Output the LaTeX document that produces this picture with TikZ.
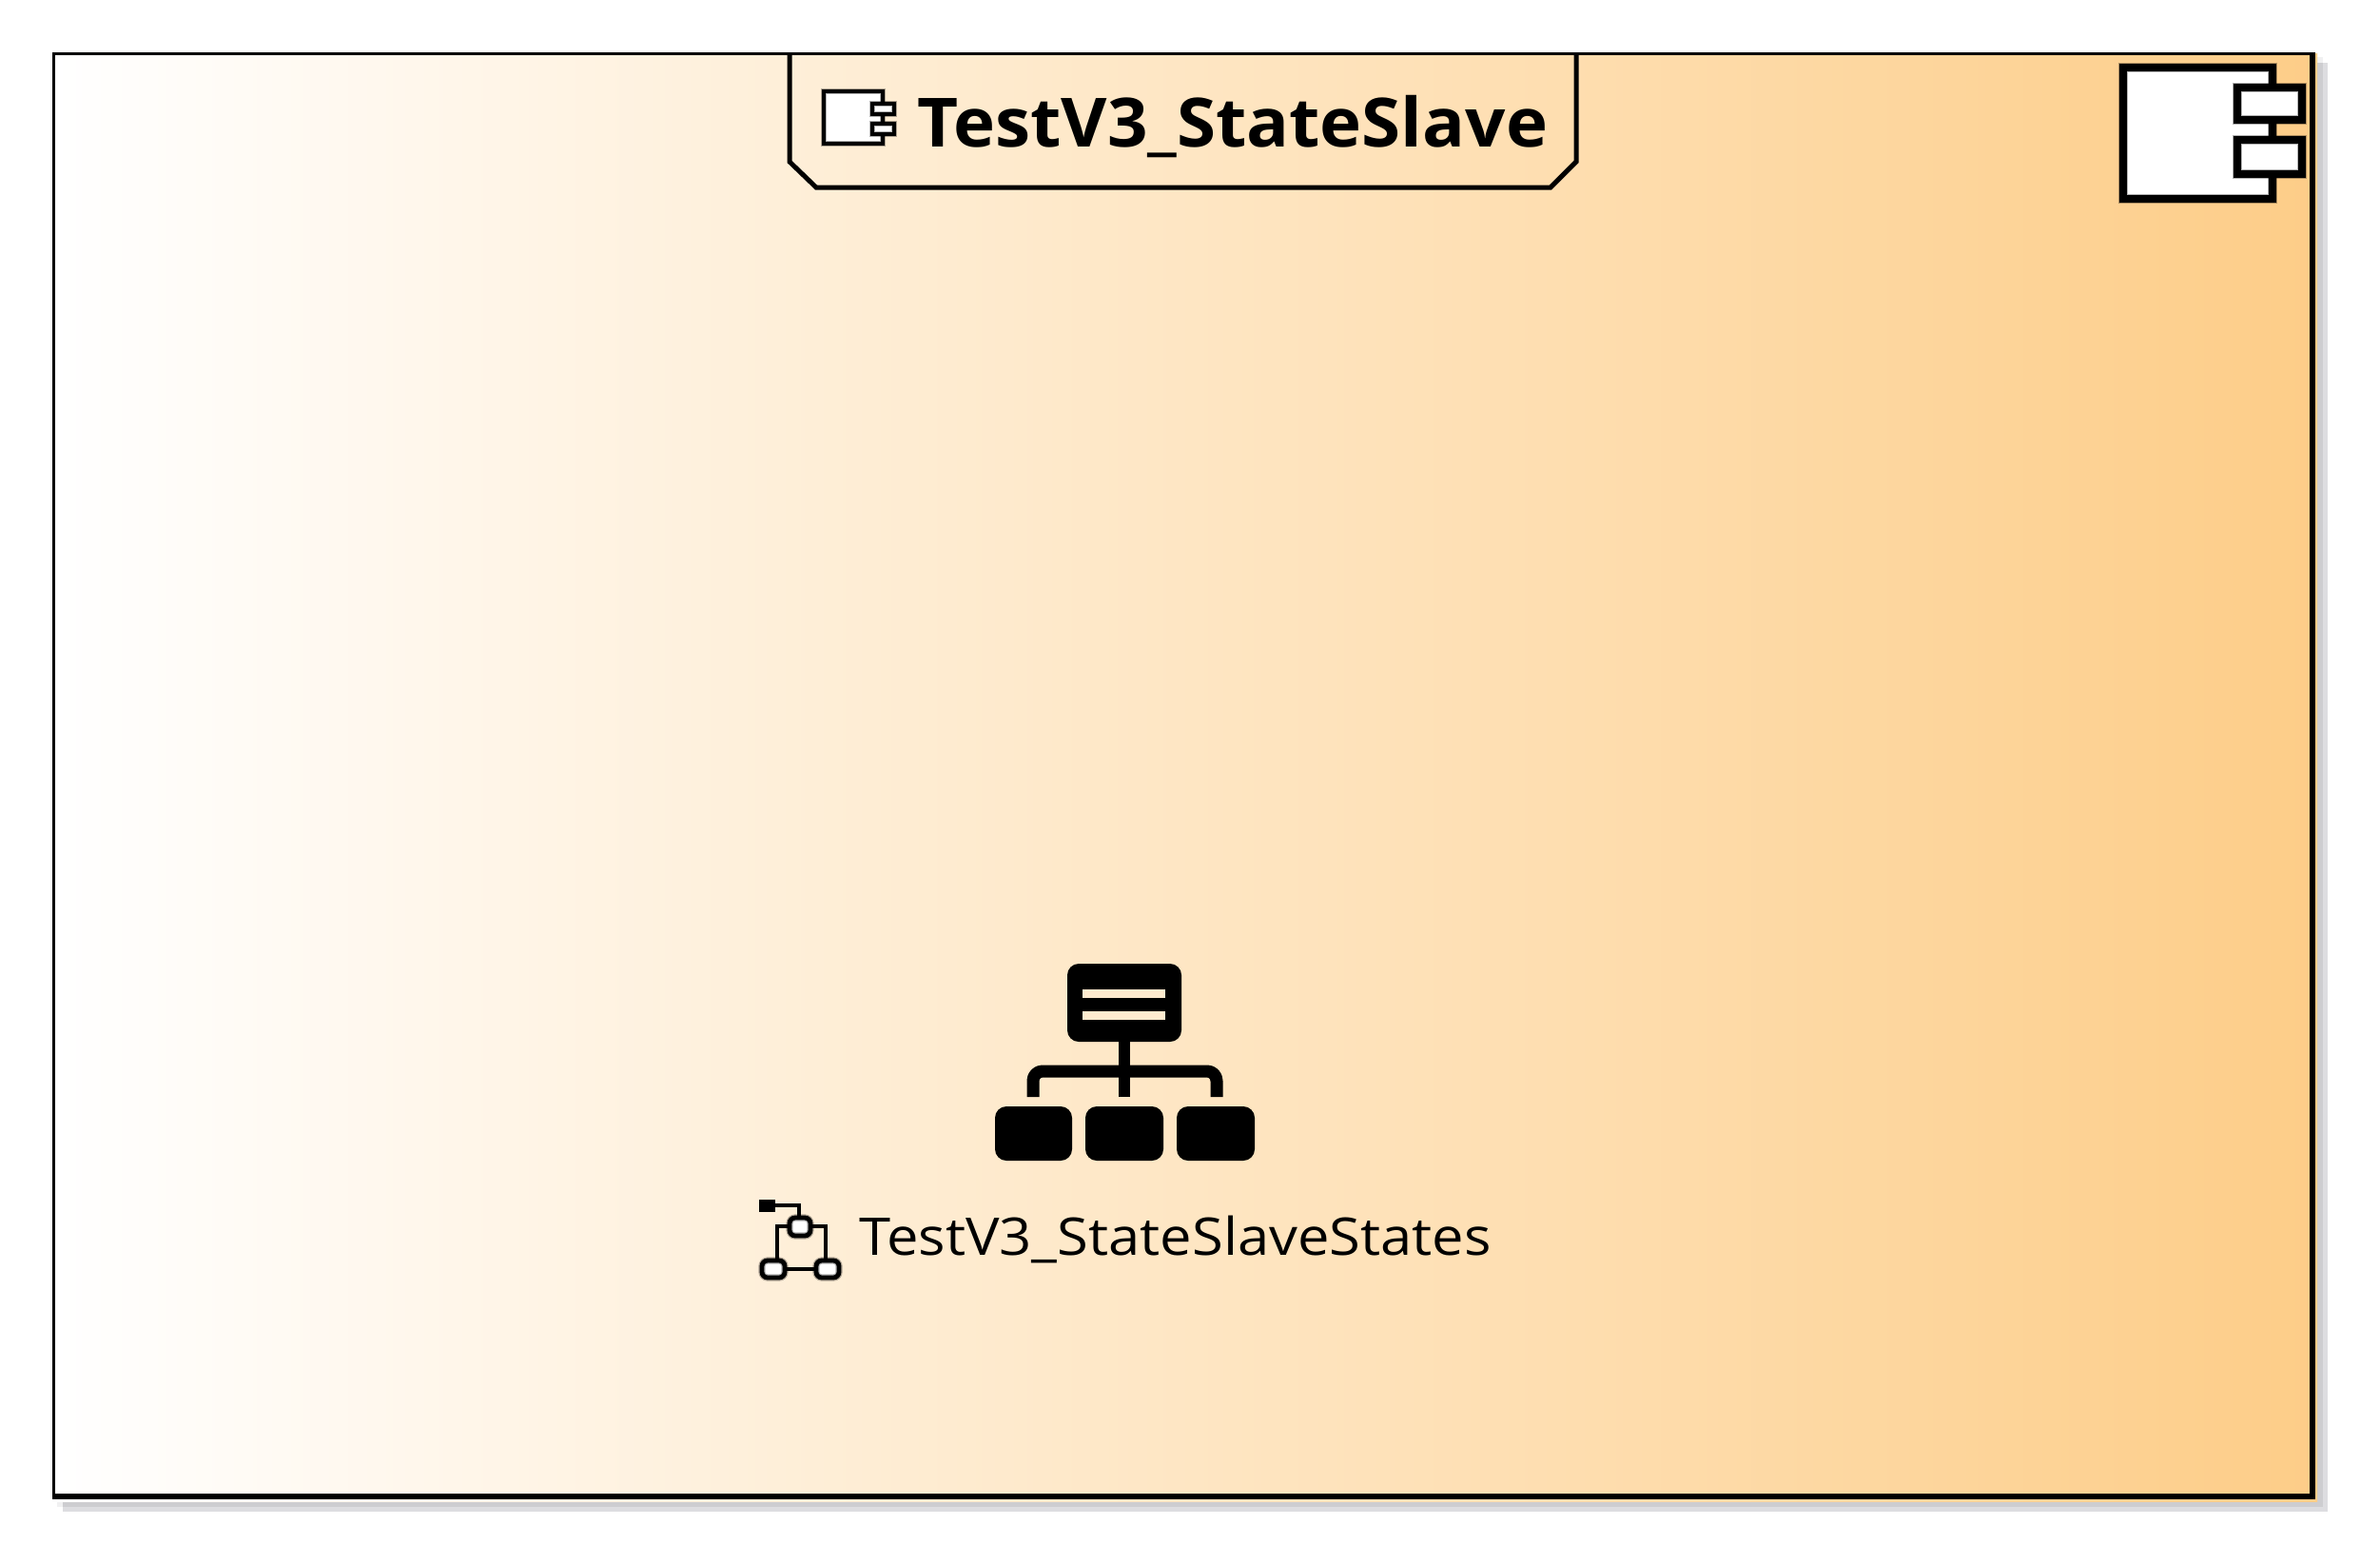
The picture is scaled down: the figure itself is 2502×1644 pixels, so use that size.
\documentclass[tikz,border=0pt]{standalone}
\usepackage{fontspec}
\setmainfont{Open Sans}
\newfontfamily\titlefont[FakeStretch=1.043]{Open Sans}
\newfontfamily\labelfont[FakeStretch=1.093]{Open Sans}
\definecolor{rightorange}{RGB}{253,205,136}
\definecolor{shadowA}{RGB}{221,221,224}
\definecolor{shadowB}{RGB}{205,205,208}
\definecolor{shadowC}{RGB}{240,240,241}
\tikzset{
  iconbox/.style={preaction={fill=white},preaction={draw=black,opacity=.3,line width=#1+1.2pt},draw=black,line width=#1,line join=miter},
  wire/.style={draw=black,line width=#1},
  titletext/.style={inner sep=0pt,anchor=base west,font=\titlefont\fontsize{35.7}{36}\selectfont\bfseries},
  labeltext/.style={inner sep=0pt,anchor=base west,font=\labelfont\fontsize{27.3}{28}\selectfont},
}
\begin{document}
\begin{tikzpicture}[x=0.5pt,y=-0.5pt]
\useasboundingbox (0,0) rectangle (2502,1644);
\fill[white] (0,0) rectangle (2502,1644);
% shadow
\fill[shadowC] (60,60) rectangle (2442,1584);
\fill[shadowA] (66,66) rectangle (2447,1589);
\fill[shadowB] (66,66) rectangle (2442,1584);
% gradient body
\shade[left color=white,right color=rightorange] (56,56) rectangle (2436,1578);
% frame
\fill[black] (55,55) rectangle (2434,58);
\fill[black] (55,55) rectangle (58,1576);
\fill[black] (2428,55) rectangle (2434,1576);
\fill[black] (55,1570) rectangle (2434,1576);
% title tab
\draw[black,line width=2.5pt,line join=miter] (830,57) -- (830,170) -- (858,197) -- (1630,197) -- (1657,170) -- (1657,57);
% small component icon
\draw[iconbox=2pt] (866,96) rectangle (928,151);
\draw[iconbox=1.6pt] (917,109) rectangle (940,120);
\draw[iconbox=1.6pt] (917,130) rectangle (940,141);
\node[titletext] (title) at (964,154) {TestV3\_StateSlave};
% big component icon
\draw[iconbox=4pt] (2232,71) rectangle (2389,209);
\draw[iconbox=4pt] (2352,92) rectangle (2420,126);
\draw[iconbox=4pt] (2352,147) rectangle (2420,183);
% hierarchy icon
\fill[black,rounded corners=6pt] (1122,1013) rectangle (1242,1095);
\fill[rightorange!40!white] (1138,1040) rectangle (1225,1049);
\fill[rightorange!40!white] (1138,1063) rectangle (1225,1072);
\fill[black] (1176,1095) rectangle (1188,1153);
\draw[wire=6.5pt,line join=round,rounded corners=5pt] (1086,1153) -- (1086,1126) -- (1279,1126) -- (1279,1153);
\fill[black,rounded corners=6pt] (1046,1163) rectangle (1127,1220);
\fill[black,rounded corners=6pt] (1141,1163) rectangle (1223,1220);
\fill[black,rounded corners=6pt] (1237,1163) rectangle (1319,1220);
% state machine icon
\fill[black] (798,1261) rectangle (815,1274);
\draw[wire=2.4pt] (815,1267) -- (840,1267) -- (840,1279);
\draw[wire=2.4pt] (829,1289) -- (817,1289) -- (817,1324);
\draw[wire=2.4pt] (853,1289) -- (868,1289) -- (868,1324);
\draw[wire=2.4pt] (826,1334) -- (857,1334);
\draw[iconbox=2.4pt,rounded corners=3pt] (830,1280) rectangle (852,1299);
\draw[iconbox=2.4pt,rounded corners=3pt] (801,1325) rectangle (825,1343);
\draw[iconbox=2.4pt,rounded corners=3pt] (858,1325) rectangle (882,1343);
\node[labeltext] (label) at (903,1319) {TestV3\_StateSlaveStates};
\end{tikzpicture}
\end{document}
